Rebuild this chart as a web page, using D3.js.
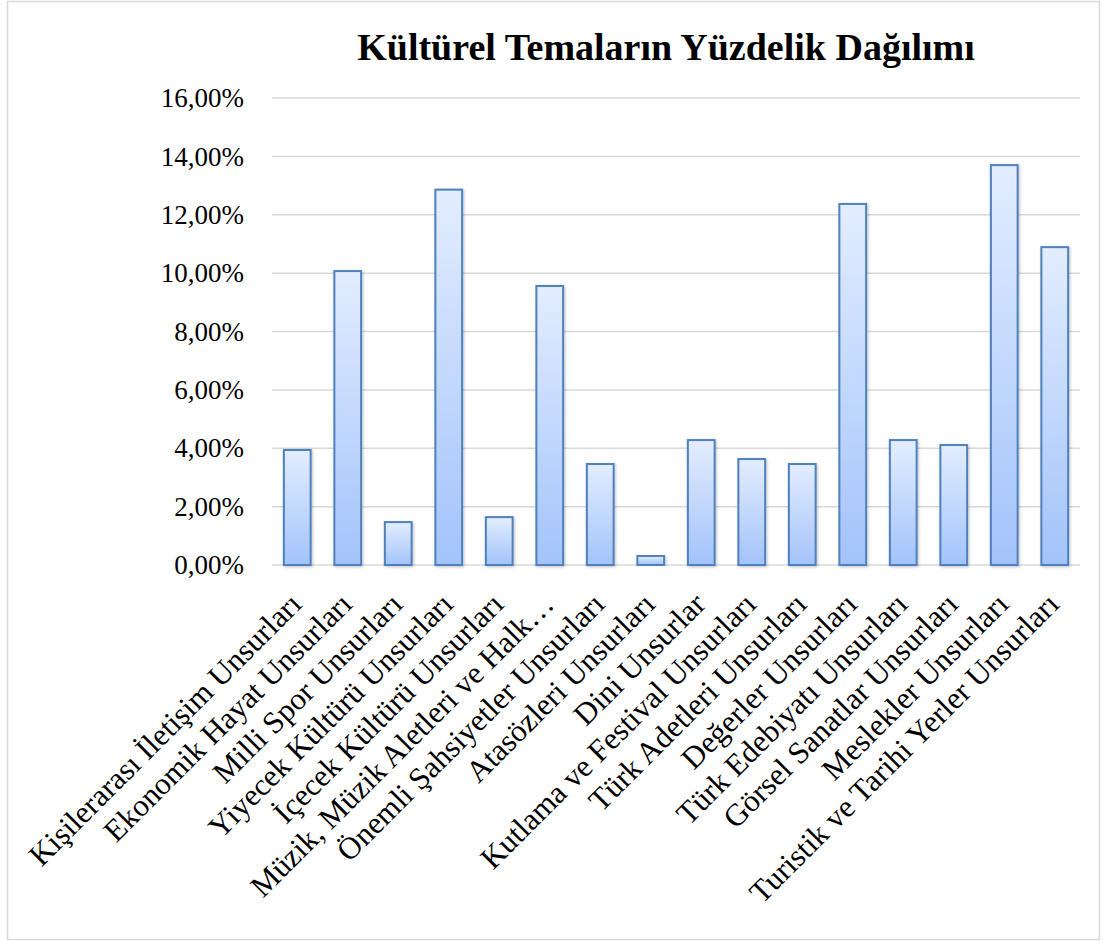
<!DOCTYPE html>
<html>
<head>
<meta charset="utf-8">
<script src="https://cdn.jsdelivr.net/npm/d3@7"></script>
<style>
  body { margin: 0; background: #fff; }
  svg text { font-family: "Liberation Serif", "Times New Roman", serif; fill: #000; }
</style>
</head>
<body>
<div id="chart"></div>
<script>
  // Chart data
  const categories = [
    "Kişilerarası İletişim Unsurları",
    "Ekonomik Hayat Unsurları",
    "Milli Spor Unsurları",
    "Yiyecek Kültürü Unsurları",
    "İçecek Kültürü Unsurları",
    "Müzik, Müzik Aletleri ve Halk…",
    "Önemli Şahsiyetler Unsurları",
    "Atasözleri Unsurları",
    "Dini Unsurlar",
    "Kutlama ve Festival Unsurları",
    "Türk Adetleri Unsurları",
    "Değerler Unsurları",
    "Türk Edebiyatı Unsurları",
    "Görsel Sanatlar Unsurları",
    "Meslekler Unsurları",
    "Turistik ve Tarihi Yerler Unsurları"
  ];
  const percents = [3.94, 10.07, 1.47, 12.86, 1.64, 9.56, 3.46, 0.31, 4.28, 3.63, 3.46, 12.37, 4.28, 4.11, 13.70, 10.89];
  const yTicks = [0, 2, 4, 6, 8, 10, 12, 14, 16];
  const chartTitle = "Kültürel Temaların Yüzdelik Dağılımı";

  const width = 1115, height = 945;
  const margin = { top: 98, right: 35, bottom: 380, left: 272 };

  const svg = d3.select("#chart").append("svg")
    .attr("width", width)
    .attr("height", height);

  // outer frame
  svg.append("rect")
    .attr("x", 7.5).attr("y", 1.5)
    .attr("width", 1092).attr("height", 938)
    .attr("fill", "#fff")
    .attr("stroke", "#d9d9d9")
    .attr("stroke-width", 1.5);

  const defs = svg.append("defs");
  const grad = defs.append("linearGradient")
    .attr("id", "barGrad")
    .attr("x1", 0).attr("y1", 0).attr("x2", 0).attr("y2", 1);
  grad.append("stop").attr("offset", "0%").attr("stop-color", "#e3edff");
  grad.append("stop").attr("offset", "100%").attr("stop-color", "#a3c3fa");

  const shadow = defs.append("filter").attr("id", "shadow")
    .attr("x", "-20%").attr("y", "-5%").attr("width", "140%").attr("height", "115%");
  shadow.append("feDropShadow")
    .attr("dx", 1).attr("dy", 1).attr("stdDeviation", 1.5)
    .attr("flood-color", "#000").attr("flood-opacity", 0.25);

  const x = d3.scaleBand()
    .domain(categories)
    .range([margin.left, width - margin.right])
    .paddingInner(0.47)
    .paddingOuter(0.235);

  const y = d3.scaleLinear()
    .domain([0, 16])
    .range([height - margin.bottom, margin.top]);

  // gridlines
  svg.append("g")
    .selectAll("line")
    .data(yTicks)
    .join("line")
    .attr("x1", margin.left)
    .attr("x2", width - margin.right)
    .attr("y1", d => y(d))
    .attr("y2", d => y(d))
    .attr("stroke", "#d9d9d9")
    .attr("stroke-width", 1.5);

  // y axis labels
  const yAxis = d3.axisLeft(y)
    .tickValues(yTicks)
    .tickSize(0)
    .tickPadding(28)
    .tickFormat(d => d3.format(".2f")(d).replace(".", ",") + "%");

  svg.append("g")
    .attr("transform", `translate(${margin.left},0)`)
    .call(yAxis)
    .call(g => g.select(".domain").remove())
    .call(g => g.selectAll("text")
      .attr("font-size", 27)
      .attr("font-family", "Liberation Serif, Times New Roman, serif")
      .attr("fill", "#000"));

  // bars
  svg.append("g")
    .selectAll("rect")
    .data(percents)
    .join("rect")
    .attr("x", (d, i) => x(categories[i]))
    .attr("y", d => y(d))
    .attr("width", x.bandwidth())
    .attr("height", d => y(0) - y(d))
    .attr("fill", "url(#barGrad)")
    .attr("stroke", "#4f81bd")
    .attr("stroke-width", 2)
    .attr("filter", "url(#shadow)");

  // x axis labels, rotated
  svg.append("g")
    .selectAll("text")
    .data(categories)
    .join("text")
    .attr("transform", d => `translate(${x(d) + x.bandwidth() / 2 + 6},${y(0) + 41}) rotate(-45)`)
    .attr("text-anchor", "end")
    .attr("font-size", 31)
    .text(d => d);

  // title
  svg.append("text")
    .attr("x", 666)
    .attr("y", 60)
    .attr("text-anchor", "middle")
    .attr("font-size", 38)
    .attr("font-weight", "bold")
    .text(chartTitle);
</script>
</body>
</html>
